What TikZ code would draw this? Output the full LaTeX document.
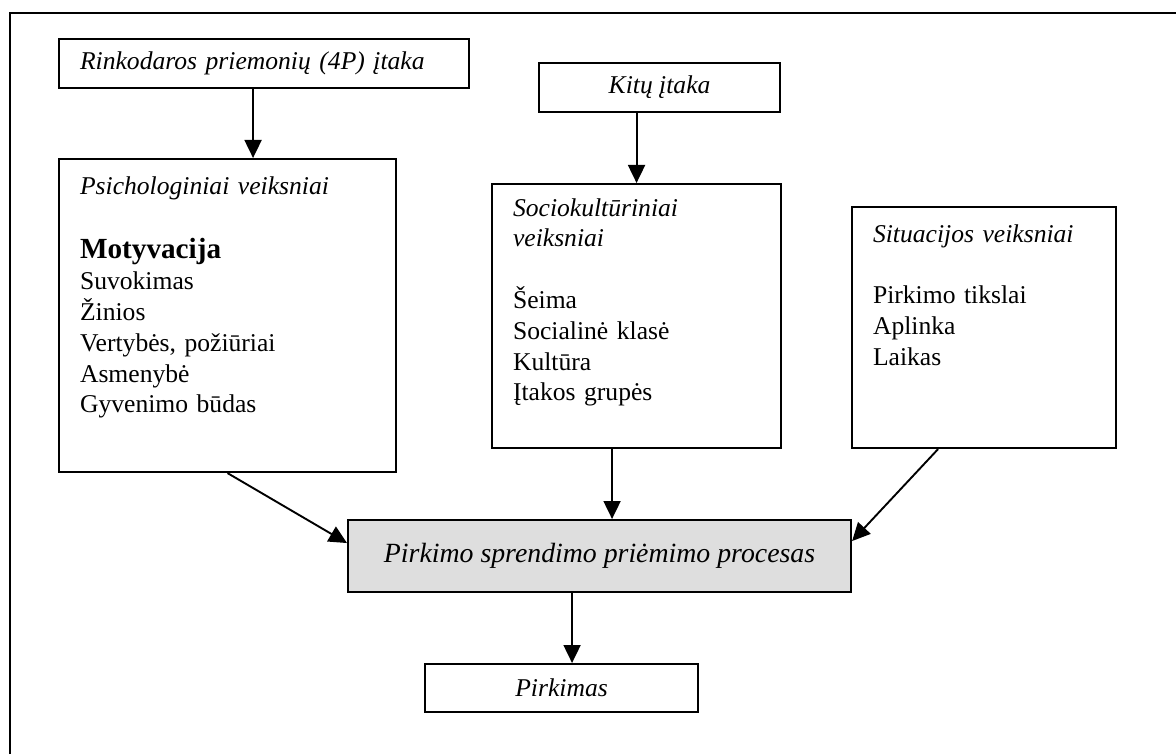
\documentclass[tikz,border=0pt]{standalone}
\usepackage{fontspec}
\setmainfont{Liberation Serif}
\usepackage{tikz}
\usetikzlibrary{arrows.meta,positioning}
\tikzset{
  buyarrow/.style={-{Triangle[length=9pt,width=8.5pt]}, line width=0.95pt,
    draw=black},
  buybox/.style={draw=black, line width=1.05pt, fill=white,
    anchor=north west, inner sep=0pt,
    font=\fontsize{12.8}{15.4}\selectfont\itshape},
  buyfactor/.style={buybox, align=left, inner xsep=10.5pt,
    font=\fontsize{12.8}{15.4}\selectfont},
  buyprocess/.style={buybox, fill=black!13,
    font=\fontsize{13.9}{16.7}\selectfont\itshape}
}

\begin{document}
\begin{tikzpicture}[x=0.5pt, y=-0.5pt]
  \useasboundingbox (0,0) rectangle (1176,754);
  \draw[line width=1.4pt] (10,754) -- (10,13) -- (1176,13);

  \node[buybox, text width=184pt, align=left, inner xsep=10.5pt,
    minimum height=24.5pt] (rink) at (58,38)
    {Rinkodaros priemonių (4P) įtaka};
  \node[buybox, minimum width=120.5pt, minimum height=24.5pt] (kitu)
    at (538,62) {Kitų įtaka};

  \node[buyfactor, text width=147.5pt, text height=17.5pt,
    text depth=139pt] (psych) at (58,158)
    {\textit{Psichologiniai veiksniai}\\[17pt]
     {\fontsize{14.6}{15.4}\selectfont\bfseries Motyvacija}\\
     Suvokimas\\ Žinios\\ Vertybės, požiūriai\\ Asmenybė\\
     Gyvenimo būdas};
  \node[buyfactor, text width=123.5pt, text height=16pt,
    text depth=116pt] (socio) at (491,183)
    {\textit{Sociokultūriniai}\\ \textit{veiksniai}\\[15.4pt]
     Šeima\\ Socialinė klasė\\ Kultūra\\ Įtakos grupės};
  \node[buyfactor, text width=111pt, text height=17.5pt,
    text depth=103pt] (situ) at (851,206)
    {\textit{Situacijos veiksniai}\\[15.4pt]
     Pirkimo tikslai\\ Aplinka\\ Laikas};

  \node[buyprocess, minimum width=251.5pt, minimum height=36pt] (proc)
    at (347,519) {Pirkimo sprendimo priėmimo procesas};
  \node[buybox, minimum width=136.5pt, minimum height=24pt] (pirk)
    at (424,663) {Pirkimas};

  \draw[buyarrow] ([xshift=-5.5pt]rink.south)
    -- ([xshift=-5.5pt]rink.south |- psych.north);
  \draw[buyarrow] (kitu.south -| socio.north) -- (socio.north);
  \draw[buyarrow] (psych.south) -- ([yshift=6.5pt]proc.west);
  \draw[buyarrow] ([xshift=-12.25pt]socio.south)
    -- ([xshift=-12.25pt]socio.south |- proc.north);
  \draw[buyarrow] ([xshift=-23pt]situ.south) -- ([yshift=7.5pt]proc.east);
  \draw[buyarrow] ([xshift=5.25pt]pirk.north |- proc.south)
    -- ([xshift=5.25pt]pirk.north);
\end{tikzpicture}
\end{document}
